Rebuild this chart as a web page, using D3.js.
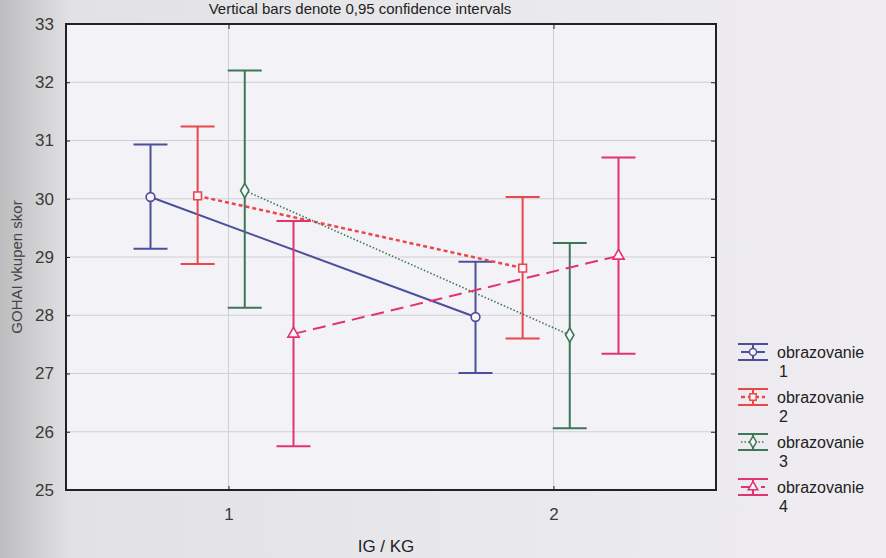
<!DOCTYPE html>
<meta charset="utf-8">
<style>
body { margin: 0; background: #ececee; }
svg { display: block; font-family: Arial, "Liberation Sans", sans-serif; }
.grid line { stroke: #cfd0d4; stroke-width: 1px; }
.frame { fill: none; stroke: #222; stroke-width: 2px; }
.lab { font-size: 15px; fill: #222; }
</style>
<body>
<div id="chart"></div>
<script src="https://cdn.jsdelivr.net/npm/d3@7"></script>
<script>
// groups on x axis (IG / KG)
var groups = [1, 2];
var yTicks = [25, 26, 27, 28, 29, 30, 31, 32, 33];
var seriesNames = ["obrazovanie 1", "obrazovanie 2", "obrazovanie 3", "obrazovanie 4"];
// means and 0,95 CI per series, one value per group
var means = [[30.03, 27.97], [30.05, 28.81], [30.14, 27.66], [27.68, 29.02]];
var lows  = [[29.14, 27.01], [28.88, 27.60], [28.13, 26.06], [25.75, 27.34]];
var highs = [[30.93, 28.92], [31.24, 30.03], [32.20, 29.24], [29.62, 30.71]];
var offsets = [-0.24, -0.095, 0.05, 0.2];

var colors = ["#4b4f9c", "#e8474c", "#3e7657", "#e2346c"];
var dashes = [null, "4,3", "1.5,2", "13,7"];
var widths = [2, 2.5, 1.6, 2];
var shapes = [d3.symbolCircle, d3.symbolSquare, d3.symbolDiamond, d3.symbolTriangle];

var W = 886, H = 558;
var margin = {top: 24, right: 170, bottom: 68, left: 66},
    width = W - margin.left - margin.right,
    height = H - margin.top - margin.bottom;

var svg = d3.select("#chart").append("svg")
    .attr("width", W)
    .attr("height", H);

// paper look: darker at the left edge
var grad = svg.append("defs").append("linearGradient").attr("id", "paper");
grad.append("stop").attr("offset", "0%").attr("stop-color", "#bdbdbf");
grad.append("stop").attr("offset", "8%").attr("stop-color", "#e2e2e5");
grad.append("stop").attr("offset", "100%").attr("stop-color", "#efedf1");
svg.append("rect").attr("width", W).attr("height", H).attr("fill", "url(#paper)");

var x = d3.scaleLinear().domain([0.5, 2.5]).range([0, width]);
var y = d3.scaleLinear().domain([25, 33]).range([height, 0]);

var g = svg.append("g").attr("transform", "translate(" + margin.left + "," + margin.top + ")");

g.append("rect").attr("width", width).attr("height", height).attr("fill", "#f3f2f6");

// grid
var grid = g.append("g").attr("class", "grid");
grid.selectAll(".gy").data(yTicks).enter().append("line")
    .attr("x1", 0).attr("x2", width)
    .attr("y1", function(d) { return y(d); }).attr("y2", function(d) { return y(d); });
grid.selectAll(".gx").data(groups).enter().append("line")
    .attr("y1", 0).attr("y2", height)
    .attr("x1", function(d) { return x(d); }).attr("x2", function(d) { return x(d); });

function tickStyle(a) {
  a.select(".domain").remove();
  a.selectAll("line").attr("stroke", "#222");
  a.selectAll("text").style("font-size", "17px").style("fill", "#3a3a3a");
}

// axes
g.append("g").attr("transform", "translate(0," + height + ")")
    .call(d3.axisBottom(x).tickValues(groups).tickFormat(d3.format("d")).tickSize(4).tickPadding(14))
    .call(tickStyle)
    .call(function(a) { a.selectAll("line").attr("transform", "translate(0,-4)"); });
g.append("g")
    .call(d3.axisLeft(y).tickValues(yTicks).tickSize(-4).tickPadding(12))
    .call(tickStyle);
g.append("g").attr("transform", "translate(" + width + ",0)")
    .call(d3.axisRight(y).tickValues(yTicks).tickSize(-5).tickFormat(""))
    .call(tickStyle);
g.append("g")
    .call(d3.axisTop(x).tickValues(groups).tickSize(-5).tickFormat(""))
    .call(tickStyle);

// lines between group means
var line = d3.line()
    .x(function(d) { return x(d.x); })
    .y(function(d) { return y(d.y); });

seriesNames.forEach(function(name, s) {
  var pts = groups.map(function(gr, i) {
    return {x: gr + offsets[s], y: means[s][i], lo: lows[s][i], hi: highs[s][i]};
  });
  var sg = g.append("g");
  sg.append("path").datum(pts)
      .attr("d", line)
      .attr("fill", "none")
      .attr("stroke", colors[s])
      .attr("stroke-width", widths[s])
      .attr("stroke-dasharray", dashes[s]);
  var bars = sg.selectAll(".bar").data(pts).enter().append("g");
  bars.append("line")
      .attr("x1", function(d) { return x(d.x); }).attr("x2", function(d) { return x(d.x); })
      .attr("y1", function(d) { return y(d.lo); }).attr("y2", function(d) { return y(d.hi); })
      .attr("stroke", colors[s]).attr("stroke-width", 2);
  ["lo", "hi"].forEach(function(k) {
    bars.append("line")
        .attr("x1", function(d) { return x(d.x) - 17; }).attr("x2", function(d) { return x(d.x) + 17; })
        .attr("y1", function(d) { return y(d[k]); }).attr("y2", function(d) { return y(d[k]); })
        .attr("stroke", colors[s]).attr("stroke-width", 2);
  });
  bars.append("path")
      .attr("d", d3.symbol().type(shapes[s]).size(s == 3 ? 55 : 60))
      .attr("transform", function(d) { return "translate(" + x(d.x) + "," + y(d.y) + ")"; })
      .attr("fill", "#f6f5f8")
      .attr("stroke", colors[s]).attr("stroke-width", 1.6);
});

g.append("rect").attr("class", "frame").attr("width", width).attr("height", height);

// title (only partly visible in the photo)
svg.append("text").attr("class", "lab")
    .attr("x", 360).attr("y", 14)
    .attr("text-anchor", "middle")
    .style("font-size", "15px")
    .text("Vertical bars denote 0,95 confidence intervals");

svg.append("text").attr("class", "lab")
    .attr("x", margin.left + x(1.5) - 5).attr("y", 552)
    .attr("text-anchor", "middle")
    .style("font-size", "17px")
    .text("IG / KG");

svg.append("text").attr("class", "lab")
    .attr("transform", "translate(22," + (margin.top + height / 2 + 10) + ")rotate(-90)")
    .attr("text-anchor", "middle")
    .style("font-size", "15px")
    .style("fill", "#444")
    .text("GOHAI vkupen skor");

// legend
var leg = svg.append("g").attr("transform", "translate(738,352)");
seriesNames.forEach(function(name, s) {
  var it = leg.append("g").attr("transform", "translate(0," + (s * 45) + ")");
  it.append("line").attr("x1", 0).attr("x2", 30).attr("y1", -8).attr("y2", -8).attr("stroke", colors[s]).attr("stroke-width", 2);
  it.append("line").attr("x1", 0).attr("x2", 30).attr("y1", 8).attr("y2", 8).attr("stroke", colors[s]).attr("stroke-width", 2);
  it.append("line").attr("x1", 15).attr("x2", 15).attr("y1", -8).attr("y2", 8).attr("stroke", colors[s]).attr("stroke-width", 2);
  it.append("line").attr("x1", 3).attr("x2", 27).attr("y1", 0).attr("y2", 0)
      .attr("stroke", colors[s]).attr("stroke-width", widths[s]).attr("stroke-dasharray", dashes[s]);
  it.append("path").attr("d", d3.symbol().type(shapes[s]).size(40))
      .attr("transform", "translate(15,0)")
      .attr("fill", "#f6f5f8").attr("stroke", colors[s]).attr("stroke-width", 1.5);
  var parts = name.split(" ");
  it.append("text").attr("class", "lab").attr("x", 39).attr("y", 6).style("font-size", "16px").text(parts[0]);
  it.append("text").attr("class", "lab").attr("x", 41).attr("y", 25).style("font-size", "16px").text(parts[1]);
});
</script>
</body>
